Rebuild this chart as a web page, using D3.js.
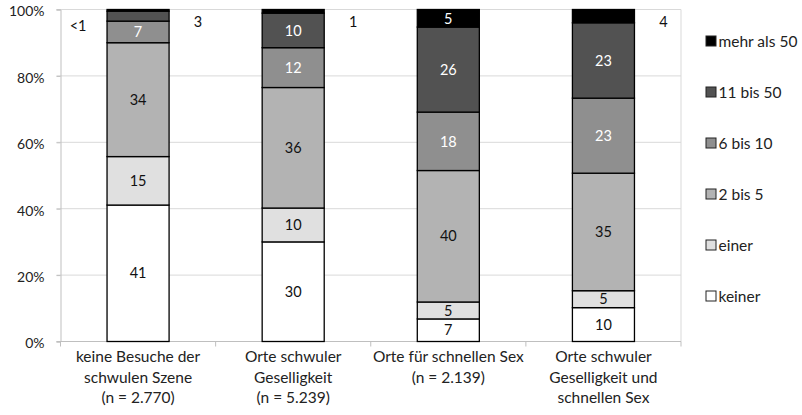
<!DOCTYPE html>
<html><head><meta charset="utf-8">
<script src="https://cdn.jsdelivr.net/npm/d3@7/dist/d3.min.js"></script>
<style>body{margin:0;background:#fff}svg{display:block}text{font-family:Lato,"Open Sans",sans-serif}</style>
</head><body><svg id="c" width="802" height="415"></svg>
<script>
const categories = ["keine Besuche der|schwulen Szene|(n = 2.770)", "Orte schwuler|Geselligkeit|(n = 5.239)", "Orte für schnellen Sex|(n = 2.139)", "Orte schwuler|Geselligkeit und|schnellen Sex"];
const seriesNames = ["keiner", "einer", "2 bis 5", "6 bis 10", "11 bis 50", "mehr als 50"];
const keiner   = [41.1, 30.0, 6.8, 10.2];
const einer    = [14.6, 10.2, 5.1, 5.1];
const zweiBis5 = [34.3, 36.3, 39.6, 35.4];
const sechsBis10 = [6.5, 12.0, 17.6, 22.6];
const elfBis50 = [3.0, 10.4, 25.6, 22.7];
const mehrAls50 = [0.5, 1.1, 5.3, 4.0];
const yTicks = [0, 0.2, 0.4, 0.6, 0.8, 1];
// labels drawn beside the bar: [category index, series index, side]
const outsideLabels = [[0, 5, -1], [0, 4, 1], [1, 5, 1], [3, 5, 1]];

const colors = ["#ffffff", "#e0e0e0", "#b3b3b3", "#8f8f8f", "#525252", "#000000"];
const textColors = ["#111", "#111", "#111", "#ffffff", "#ffffff", "#ffffff"];
const seriesVals = [keiner, einer, zweiBis5, sechsBis10, elfBis50, mehrAls50];

const rows = categories.map((c, i) => {
  const r = {cat: c};
  seriesNames.forEach((s, j) => r[s] = seriesVals[j][i]);
  return r;
});
const stacked = d3.stack().keys(seriesNames).offset(d3.stackOffsetExpand)(rows);

const svg = d3.select("#c");
const m = {l: 60.5, r: 681, t: 9.5, b: 341.5};
const x = d3.scaleBand().domain(categories).range([m.l, m.r]).paddingInner(0.6).paddingOuter(0.3);
const y = d3.scaleLinear().domain([0, 1]).range([m.b, m.t]);

// gridlines
svg.append("g").selectAll("line").data(yTicks.filter(t => t > 0)).join("line")
  .attr("x1", m.l - 4).attr("x2", m.r).attr("y1", d => y(d)).attr("y2", d => y(d))
  .attr("stroke", "#d9d9d9").attr("stroke-width", 1);
// right border
svg.append("line").attr("x1", m.r).attr("x2", m.r).attr("y1", m.t).attr("y2", m.b).attr("stroke", "#d9d9d9");

// y axis
const ya = svg.append("g").attr("transform", `translate(${m.l},0)`)
  .call(d3.axisLeft(y).tickValues(yTicks).tickFormat(d3.format(".0%")).tickSize(4).tickPadding(12));
ya.select(".domain").attr("stroke", "#bfbfbf");
ya.selectAll(".tick line").attr("stroke", "#bfbfbf");
ya.selectAll(".tick text").attr("font-size", 14).attr("fill", "#222").attr("font-family", "Lato").attr("dy", "0.45em");

// x axis line and boundary ticks
svg.append("line").attr("x1", m.l - 4).attr("x2", m.r).attr("y1", m.b).attr("y2", m.b).attr("stroke", "#bfbfbf");
const edges = d3.range(categories.length + 1).map(i => m.l + i * (m.r - m.l) / categories.length);
svg.append("g").selectAll("line").data(edges).join("line")
  .attr("x1", d => d).attr("x2", d => d).attr("y1", m.b).attr("y2", m.b + 5).attr("stroke", "#bfbfbf");

// bars
const layers = svg.append("g").selectAll("g").data(stacked).join("g")
  .attr("fill", (d, i) => colors[i]);
layers.selectAll("rect").data(d => d).join("rect")
  .attr("x", d => x(d.data.cat)).attr("width", x.bandwidth())
  .attr("y", d => y(d[1])).attr("height", d => y(d[0]) - y(d[1]))
  .attr("stroke", "#000").attr("stroke-width", 1.3);

const fmt = v => v < 1 ? "<1" : String(Math.round(v));
const isOutside = (ci, si) => outsideLabels.some(o => o[0] === ci && o[1] === si);

// inside labels
stacked.forEach((layer, si) => {
  layer.forEach((d, ci) => {
    if (isOutside(ci, si)) return;
    svg.append("text")
      .attr("x", x(d.data.cat) + x.bandwidth() / 2)
      .attr("y", (y(d[0]) + y(d[1])) / 2)
      .attr("dy", "0.36em").attr("text-anchor", "middle")
      .attr("font-size", 14.5).attr("fill", textColors[si])
      .text(fmt(seriesVals[si][ci]));
  });
});
// outside labels
outsideLabels.forEach(([ci, si, side]) => {
  const cx = x(categories[ci]) + x.bandwidth() / 2;
  const yy = side < 0 ? y(1) + 16 : y(1) + 12;
  svg.append("text")
    .attr("x", cx + side * 60).attr("y", yy).attr("dy", "0.36em")
    .attr("text-anchor", "middle").attr("font-size", 14.5).attr("fill", "#111")
    .text(fmt(seriesVals[si][ci]));
});

// x labels
categories.forEach(c => {
  const t = svg.append("text").attr("text-anchor", "middle").attr("font-size", 15.5).attr("fill", "#222")
    .attr("x", x(c) + x.bandwidth() / 2).attr("y", 362);
  c.split("|").forEach((line, i) => {
    t.append("tspan").attr("x", x(c) + x.bandwidth() / 2).attr("dy", i === 0 ? 0 : 20.5).text(line);
  });
});

// legend
const legendOrder = seriesNames.map((s, i) => i).reverse();
const lg = svg.append("g").selectAll("g").data(legendOrder).join("g")
  .attr("transform", (d, i) => `translate(706,${41 + i * 51})`);
lg.append("rect").attr("x", 0).attr("y", -5).attr("width", 10).attr("height", 10)
  .attr("fill", d => colors[d]).attr("stroke", "#222").attr("stroke-width", 1);
lg.append("text").attr("x", 12.5).attr("y", 0).attr("dy", "0.36em").attr("font-size", 15.5).attr("fill", "#222")
  .text(d => seriesNames[d]);
</script></body></html>
